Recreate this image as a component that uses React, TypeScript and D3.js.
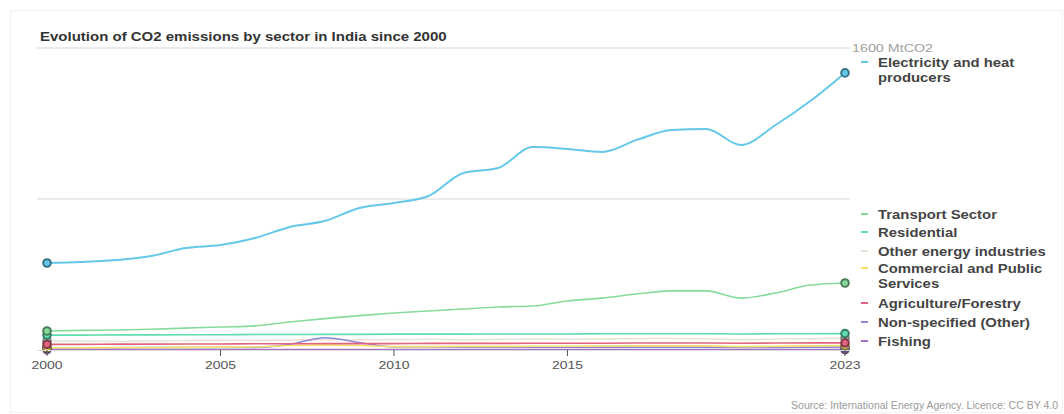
import React from "react";
import * as d3 from "d3";

const years = [2000, 2001, 2002, 2003, 2004, 2005, 2006, 2007, 2008, 2009, 2010, 2011, 2012, 2013, 2014, 2015, 2016, 2017, 2018, 2019, 2020, 2021, 2022, 2023];

const electricity = [461, 466, 477, 498, 540, 556, 593, 652, 683, 752, 779, 816, 938, 964, 1075, 1065, 1049, 1113, 1166, 1171, 1086, 1192, 1319, 1468];
const transport = [101, 104, 106, 110, 116, 122, 128, 148, 166, 182, 196, 207, 217, 228, 233, 260, 275, 297, 313, 313, 275, 302, 344, 355];
const residential = [79, 79, 80, 80, 81, 81, 82, 82, 83, 83, 84, 84, 84, 85, 85, 85, 86, 86, 86, 86, 85, 86, 86, 87];
const otherEnergy = [48, 47, 46, 48, 50, 52, 51, 53, 55, 54, 56, 57, 55, 56, 58, 57, 59, 60, 61, 60, 55, 58, 60, 62];
const commercial = [12, 12, 13, 13, 14, 15, 16, 24, 26, 24, 18, 18, 19, 19, 20, 20, 21, 22, 22, 22, 18, 20, 22, 23];
const agriculture = [30, 30, 31, 31, 32, 32, 33, 33, 34, 34, 34, 35, 35, 35, 36, 36, 36, 37, 37, 37, 36, 37, 38, 38];
const nonSpecified = [12, 12, 12, 13, 13, 13, 14, 30, 65, 40, 16, 16, 15, 15, 15, 15, 15, 15, 15, 15, 14, 14, 15, 15];
const fishing = [2, 2, 2, 2, 2, 2, 2, 2, 2, 2, 2, 2, 2, 2, 2, 2, 2, 2, 2, 2, 2, 2, 2, 2];

const seriesValues = [electricity, transport, residential, otherEnergy, commercial, agriculture, nonSpecified, fishing];
const seriesColors = ["#64c8e8", "#86db9c", "#5fdcb0", "#e8e4d4", "#f3df6a", "#e2647e", "#8f86d6", "#a673c4"];

const legendLines = [
  ["Electricity and heat", "producers"],
  ["Transport Sector"],
  ["Residential"],
  ["Other energy industries"],
  ["Commercial and Public", "Services"],
  ["Agriculture/Forestry"],
  ["Non-specified (Other)"],
  ["Fishing"],
];
const legendY = [62, 214, 232, 251, 268, 303, 322, 341];

const tickYears = [2000, 2005, 2010, 2015, 2023];
const gridValues = [800, 1600];
const titleText = "Evolution of CO2 emissions by sector in India since 2000";
const unitLabel = "1600 MtCO2";
const sourceText = "Source: International Energy Agency. Licence: CC BY 4.0";

function SText(props: any) {
  const { x, y, sx, anchor, size, weight, fill, children } = props;
  return (
    <text transform={`translate(${x},${y}) scale(${sx},1)`} textAnchor={anchor || "start"} fontSize={size} fontWeight={weight || "normal"} fill={fill}>
      {children}
    </text>
  );
}

export default function App() {
  const W = 1064, H = 414;
  const x = d3.scaleLinear().domain([2000, 2023]).range([47, 845]);
  const y = d3.scaleLinear().domain([0, 1600]).range([350, 48]);
  const line = d3.line<number>().x((_, i) => x(years[i])).y((v) => y(v)).curve(d3.curveMonotoneX);
  const font = "'Liberation Sans', Arial, sans-serif";

  const order = [3, 7, 6, 4, 5, 2, 1, 0];

  return (
    <svg width={W} height={H} style={{ position: "absolute", left: 0, top: 0, display: "block", background: "#fff" }} fontFamily={font}>
      <rect x={10.5} y={10.5} width={1052} height={402} fill="none" stroke="#f2f2f2" />
      <SText x={40} y={41} sx={1.25} size={12} weight="bold" fill="#333">{titleText}</SText>
      {gridValues.map((g) => (
        <line key={g} x1={37} x2={850} y1={y(g)} y2={y(g)} stroke="#ebebeb" strokeWidth={2} />
      ))}
      <SText x={852} y={y(1600) + 4} sx={1.3} size={11} fill="#a0a0a0">{unitLabel}</SText>
      {order.map((si) => (
        <path key={si} d={line(seriesValues[si]) || ""} fill="none" stroke={seriesColors[si]} strokeWidth={si === 0 ? 2 : 1.6} />
      ))}
      {order.map((si) => {
        const vals = seriesValues[si];
        const c = seriesColors[si];
        const dark = d3.color(c)!.darker(1.6).toString();
        return (
          <g key={"m" + si}>
            <circle cx={x(years[0])} cy={y(vals[0])} r={3.8} fill={c} stroke={dark} strokeWidth={2} />
            <circle cx={x(years[years.length - 1])} cy={y(vals[vals.length - 1])} r={3.8} fill={c} stroke={dark} strokeWidth={2} />
          </g>
        );
      })}
      <line x1={37} x2={850} y1={y(0) + 0.5} y2={y(0) + 0.5} stroke="#ddd" strokeWidth={1} />
      {tickYears.map((t) => (
        <g key={t}>
          <line x1={x(t)} x2={x(t)} y1={y(0)} y2={y(0) + 6} stroke="#555" strokeWidth={1} />
          <SText x={x(t)} y={y(0) + 19} sx={1.27} size={11} fill="#555" anchor="middle">{t}</SText>
        </g>
      ))}
      {legendLines.map((ls, i) => (
        <g key={"l" + i}>
          <line x1={861} x2={868} y1={legendY[i]} y2={legendY[i]} stroke={seriesColors[i]} strokeWidth={2} />
          {ls.map((s, j) => (
            <SText key={j} x={878} y={legendY[i] + 4.5 + j * 15} sx={1.24} size={12} weight="bold" fill="#444">{s}</SText>
          ))}
        </g>
      ))}
      <text x={1058} y={408.5} fontSize={10.5} fill="#9a9a9a" textAnchor="end">{sourceText}</text>
    </svg>
  );
}
